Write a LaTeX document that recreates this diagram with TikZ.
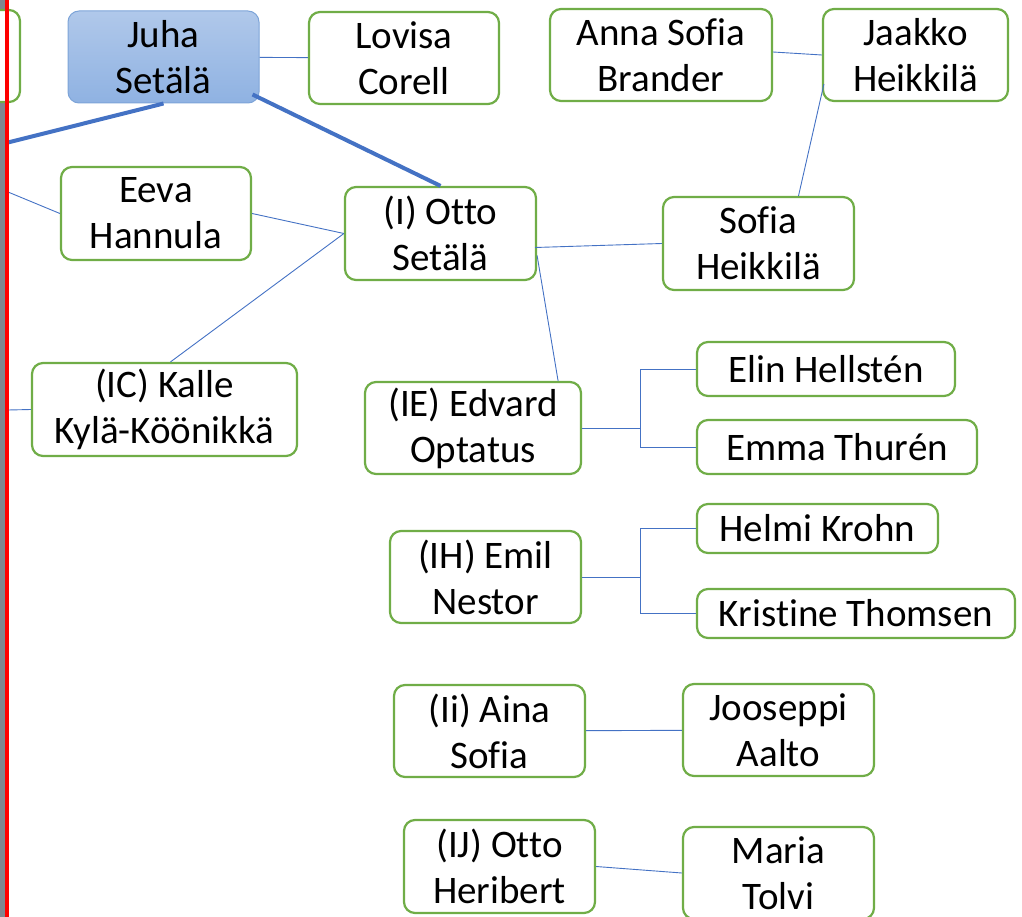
\documentclass[tikz,border=0pt]{standalone}
\usepackage{fontspec}
\setmainfont[Ligatures={NoCommon}]{Carlito}
\usepackage{tikz}
\usetikzlibrary{calc}

\definecolor{boxgreen}{RGB}{112,173,71}
\definecolor{linkblue}{RGB}{68,114,196}
\definecolor{roottop}{RGB}{176,200,234}
\definecolor{rootbot}{RGB}{143,178,226}
\definecolor{rootedge}{RGB}{125,164,216}
\definecolor{edgegray}{RGB}{128,134,144}

\tikzset{
  person/.style={draw=boxgreen, line width=2.2pt, rounded corners=11pt, fill=white,
    inner sep=0pt, align=center, font=\fontsize{39}{46}\selectfont},
  root/.style={person, draw=rootedge, line width=1pt, top color=roottop, bottom color=rootbot},
  link/.style={draw=linkblue, line width=0.9pt},
  thicklink/.style={draw=linkblue, line width=4pt}
}

\begin{document}
\begin{tikzpicture}[x=1pt, y=-1pt]
		\useasboundingbox (0,0) rectangle (1022,917);
		\fill[edgegray] (0,0) rectangle (5,917);

		% cut-off box at the left border
		\node[person, minimum width=190, minimum height=92] (prev) at (-75, 56) {};

		\node[root,   minimum width=191, minimum height=92] (juha)     at (163.5,  57.0) {Juha\\Setälä};
		\node[person, minimum width=190, minimum height=92] (lovisa)   at (404.0,  58.0) {Lovisa\\Corell};
		\node[person, minimum width=222, minimum height=92] (anna)     at (661.0,  55.0) {Anna Sofia\\Brander};
		\node[person, minimum width=185, minimum height=92] (jaakko)   at (915.5,  55.0) {Jaakko\\Heikkilä};

		\node[person, minimum width=190, minimum height=93] (eeva)     at (156.0, 213.5) {Eeva\\Hannula};
		\node[person, minimum width=191, minimum height=93] (otto)     at (440.5, 233.5) {(I) Otto\\Setälä};
		\node[person, minimum width=191, minimum height=93] (sofia)    at (758.5, 243.5) {Sofia\\Heikkilä};

		\node[person, minimum width=265, minimum height=93] (kalle)    at (164.5, 409.5) {(IC) Kalle\\Kylä-Köönikkä};
		\node[person, minimum width=216, minimum height=92] (edvard)   at (473.0, 428.0) {(IE) Edvard\\Optatus};
		\node[person, minimum width=258, minimum height=54] (elin)     at (826.0, 369.0) {Elin Hellstén};
		\node[person, minimum width=280, minimum height=54] (emma)     at (837.0, 447.0) {Emma Thurén};

		\node[person, minimum width=191, minimum height=92] (emil)     at (485.5, 577.0) {(IH) Emil\\Nestor};
		\node[person, minimum width=241, minimum height=49] (helmi)    at (817.5, 528.5) {Helmi Krohn};
		\node[person, minimum width=318, minimum height=49] (kristine) at (856.0, 613.5) {Kristine Thomsen};

		\node[person, minimum width=191, minimum height=92] (aina)     at (489.5, 731.0) {(Ii) Aina\\Sofia};
		\node[person, minimum width=191, minimum height=92] (jooseppi) at (778.5, 730.0) {Jooseppi\\Aalto};

		\node[person, minimum width=191, minimum height=93] (ij)       at (499.5, 866.5) {(IJ) Otto\\Heribert};
		\node[person, minimum width=191, minimum height=92] (maria)    at (778.5, 873.0) {Maria\\Tolvi};

		% free ends at the left border
		\coordinate (edgeA) at (6, 143);
		\coordinate (edgeB) at (8, 192);
		\coordinate (edgeC) at (8, 410);

		\draw[thicklink] (juha.south) to (edgeA);
		\draw[thicklink] ($(juha.south east)+(-7,-9)$) to (otto.north);
		\draw[link] (juha) to (lovisa);
		\draw[link] (edgeB) to (eeva.west);
		\draw[link] (eeva.east) to (otto.west);
		\draw[link] ($(kalle.north)+(6,0)$) to (otto.west);
		\draw[link] (edgeC) to (kalle.west);

		\draw[link] ($(otto.east)+(-2,14)$) to (sofia.west);
		\draw[link] ($(otto.east)+(0,22)$) to ($(edvard.north east)+(-24,0)$);
		\draw[link] ($(sofia.north)+(40,0)$) to ($(jaakko.south west)+(2,-18)$);
		\draw[link] ($(anna.east)+(0,-3)$) to (jaakko.west);

		\draw[link] (edvard.east) -- ++(58,0) |- (elin.west);
		\draw[link] (edvard.east) -- ++(58,0) |- (emma.west);
		\draw[link] (emil.east) -- ++(58,0) |- (helmi.west);
		\draw[link] (emil.east) -- ++(58,0) |- (kristine.west);

		\draw[link] (aina) to (jooseppi);
		\draw[link] (ij.east) to (maria.west);

		\draw[red, line width=4pt] (7,0) -- (7,917);
	\end{tikzpicture}
\end{document}
